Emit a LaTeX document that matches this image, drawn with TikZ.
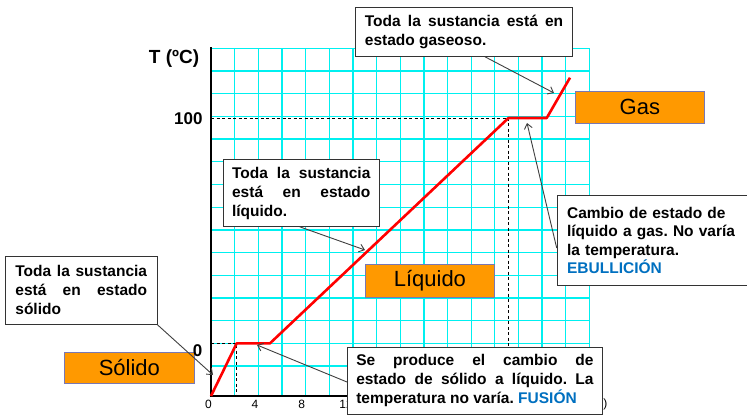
\documentclass[tikz,border=0pt]{standalone}
\usepackage{fontspec}
\setmainfont{Liberation Sans}
\usetikzlibrary{arrows.meta}
\definecolor{gridcyan}{RGB}{0,240,240}
\definecolor{boxorange}{RGB}{255,153,0}
\definecolor{boxedge}{RGB}{120,120,180}
\definecolor{textblue}{RGB}{0,112,192}
\definecolor{arrowgray}{RGB}{64,64,64}
\hyphenpenalty=10000 \exhyphenpenalty=10000 \tolerance=10000
\frenchspacing
\tikzset{
  textbox/.style={draw=black!80, line width=0.8pt, fill=white, anchor=north west,
    inner ysep=0pt, align=justify, font=\fontsize{15.5}{19}\selectfont\bfseries},
  phasebox/.style={draw=boxedge, line width=0.8pt, fill=boxorange, anchor=north west,
    inner sep=0pt, font=\fontsize{22}{26}\selectfont},
  callout/.style={draw=arrowgray, line width=0.9pt, -{Straight Barb[length=5pt,width=8pt]}},
  gridline/.style={gridcyan, line width=1.3pt},
  guide/.style={black, line width=0.9pt, dash pattern=on 3pt off 2.5pt},
  curve/.style={red, line width=2.6pt, line join=round},
  axislabel/.style={font=\fontsize{17}{20}\selectfont\bfseries},
  ticklabel/.style={font=\fontsize{12}{14}\selectfont}
}
\begin{document}
\begin{tikzpicture}[x=1pt,y=-1pt]
\useasboundingbox[fill=white] (0,0) rectangle (747,415);
% grid
\foreach \k in {1,...,16} \draw[gridline] ({211+23.65*\k},48) -- ({211+23.65*\k},396);
\foreach \k in {0,...,13} \draw[gridline] (211,{343.3-22.69*\k}) -- (589.4,{343.3-22.69*\k});
\draw[gridline] (211,366) -- (589.4,366);
% guides
\draw[guide] (211,118) -- (508.5,118) -- (508.5,396);
\draw[guide] (211,343.3) -- (236.7,343.3) -- (236.7,396);
% axes
\draw[black, line width=1.4pt] (211,47) -- (211,396) -- (589.4,396);
% curve
\coordinate (c0) at (211,396);
\coordinate (c1) at (236.7,343.3);
\coordinate (c2) at (270,343.3);
\coordinate (c3) at (508.5,118);
\coordinate (c4) at (546.7,118);
\coordinate (c5) at (570,77.7);
\draw[curve] (c0) -- (c1) -- (c2) -- (c3) -- (c4) -- (c5);
% axis labels
\node[font=\fontsize{19}{22}\selectfont\bfseries] (tlabel) at (174,59) {T (ºC)};
\node[axislabel, anchor=east] (l100) at (206,119) {100};
\node[ticklabel] (t0) at (208.5,404) {0};
\node[ticklabel] (t4) at (255,404) {4};
\node[ticklabel] (t8) at (301.7,404) {8};
\node[ticklabel] (t12) at (346,404) {12};
\node[ticklabel, anchor=east] (tmin) at (611,404) {t (min)};
% phase boxes
\node[phasebox, minimum width=130pt, minimum height=31pt] (solido) at (64,352) {Sólido};
\node[phasebox, minimum width=129pt, minimum height=33pt] (liquido) at (365,264) {Líquido};
\node[phasebox, minimum width=129pt, minimum height=32pt] (gas) at (575,91) {Gas};
\node[axislabel] (l0) at (197.5,351) {0};
% text boxes
\node[textbox, text width=131.7pt, inner xsep=10pt, minimum height=68.3pt] (solbox) at (5,255.7)
  {Toda la sustancia\linebreak está en estado\linebreak sólido};
\node[textbox, text width=138.3pt, inner xsep=9pt, minimum height=66.7pt] (liqbox) at (222.7,159.3)
  {Toda la sustancia\linebreak está en estado\linebreak líquido.};
\node[textbox, text width=198.3pt, inner xsep=9.5pt, minimum height=48.7pt] (gasbox) at (355,7.3)
  {Toda la sustancia está en\linebreak estado gaseoso.};
\node[textbox, align=left, text width=170pt, inner xsep=10pt, minimum height=90pt,
  font=\fontsize{15.5}{18.5}\selectfont\bfseries] (ebubox) at (556.7,195)
  {Cambio de estado de\\líquido a gas. No varía\\la temperatura.\\{\color{textblue}EBULLICIÓN}};
\node[textbox, text width=237.3pt, inner xsep=8.85pt, minimum height=67pt] (fusbox) at (347,347)
  {Se produce el cambio de\linebreak estado de sólido a líquido. La\linebreak temperatura no varía. {\color{textblue}FUSIÓN}};
% callouts
\coordinate (solEnd) at (213,375);
\coordinate (liqEnd) at (365,250);
\coordinate (gasEnd) at (554,93);
\coordinate (ebuEnd) at (527,123);
\coordinate (fusEnd) at (257,345);
\draw[callout] (solbox.south east) -- (solEnd);
\draw[callout] ([xshift=77pt]liqbox.south west) -- (liqEnd);
\draw[callout] ([xshift=130pt]gasbox.south west) -- (gasEnd);
\draw[callout] ([yshift=-53pt]ebubox.north west) -- (ebuEnd);
\draw[callout] ([yshift=-35pt]fusbox.north west) -- (fusEnd);
\end{tikzpicture}
\end{document}
